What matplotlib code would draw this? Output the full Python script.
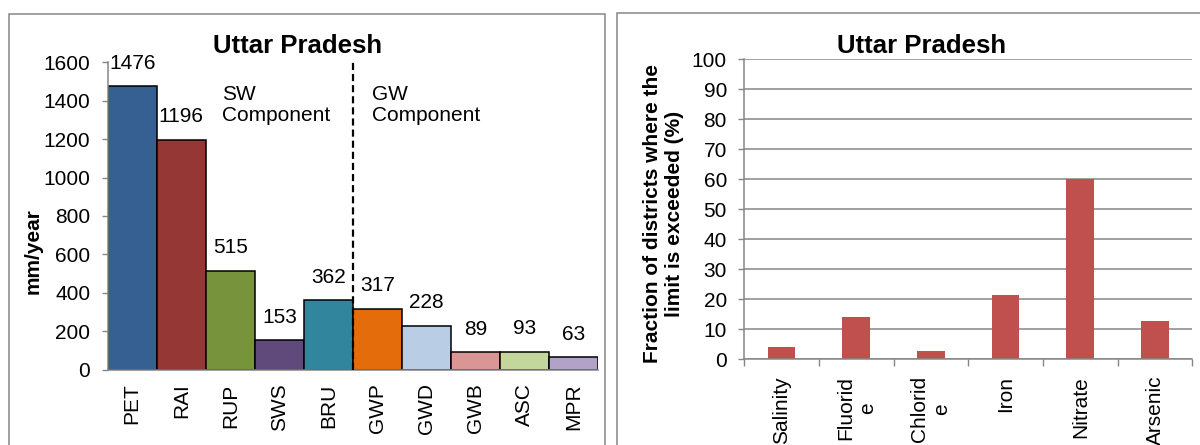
import matplotlib
matplotlib.use("Agg")
import matplotlib.pyplot as plt
from matplotlib.patches import Rectangle

plt.rcParams['font.family'] = ['Liberation Sans', 'DejaVu Sans']

# Water balance components (mm/year)
components = ["PET", "RAI", "RUP", "SWS", "BRU", "GWP", "GWD", "GWB", "ASC", "MPR"]
component_values = [1476, 1196, 515, 153, 362, 317, 228, 89, 93, 63]
component_colors = ["#376092", "#953735", "#77933C", "#604A7B", "#31859C",
                    "#E46C0A", "#B9CDE5", "#D99694", "#C3D69B", "#B3A2C7"]

# Water quality: share of districts exceeding the limit (%)
parameters = ["Salinity", "Fluorid\ne", "Chlorid\ne", "Iron", "Nitrate", "Arsenic"]
exceed_pct = [4.2, 14.1, 2.8, 21.3, 60.0, 12.8]

W, H = 1200, 445
fig = plt.figure(figsize=(W / 100, H / 100), dpi=100)
grey = "#868686"
FS = 15


def px_rect(x0, y0, x1, y1):
    """Convert pixel box (top-left origin) to figure fractions [l, b, w, h]."""
    return [x0 / W, 1 - y1 / H, (x1 - x0) / W, (y1 - y0) / H]


# Chart frames
for x0, y0, x1 in [(9, 14, 605), (617, 13.3, 1260)]:
    fig.patches.append(Rectangle((x0 / W, -0.2), (x1 - x0) / W, 1.2 - y0 / H,
                                 transform=fig.transFigure, fill=False,
                                 edgecolor=grey, lw=1.1, clip_on=False))

# ---------------- Left: water balance ----------------
ax1 = fig.add_axes(px_rect(107.7, 62.3, 598.3, 369.5))
xs = range(len(components))
ax1.bar(xs, component_values, width=1.0, color=component_colors,
        edgecolor="black", linewidth=1.1, zorder=2)
for x, v in zip(xs, component_values):
    ax1.annotate(f"{v}", (x, v), xytext=(0, 16.5), textcoords="offset points",
                 ha="center", va="center", fontsize=FS)
ax1.set_xlim(-0.5, len(components) - 0.5)
ax1.set_ylim(0, 1600)
ax1.set_yticks(range(0, 1601, 200))
ax1.set_xticks(list(xs))
ax1.set_xticklabels(components, rotation=90, fontsize=FS)
ax1.tick_params(axis="x", length=0, pad=10)
ax1.tick_params(axis="y", length=4.5, width=1, color=grey, pad=8, labelsize=FS)
for s in ["top", "right"]:
    ax1.spines[s].set_visible(False)
for s in ["left", "bottom"]:
    ax1.spines[s].set_color(grey)
    ax1.spines[s].set_linewidth(1.1)
ax1.axvline(4.5, ymin=0, ymax=1, color="black", lw=1.6, ls=(0, (3.2, 1.8)), zorder=3)
ax1.text(1.83, 1379, "SW\nComponent", ha="left", va="center", fontsize=FS,
         linespacing=1.12)
ax1.text(4.89, 1379, "GW\nComponent", ha="left", va="center", fontsize=FS,
         linespacing=1.12)
fig.text(33 / W, 1 - 251 / H, "mm/year", rotation=90, ha="center", va="center",
         fontsize=15, fontweight="bold")
fig.text(298 / W, 1 - 53 / H, "Uttar Pradesh", ha="center", va="baseline",
         fontsize=18.5, fontweight="bold")

# ---------------- Right: water quality ----------------
ax2 = fig.add_axes(px_rect(744.3, 59.3, 1192.3, 359.3))
xp = range(len(parameters))
ax2.bar(xp, exceed_pct, width=0.37, color="#C0504D", zorder=2)
ax2.set_xlim(-0.5, len(parameters) - 0.5)
ax2.set_ylim(0, 100)
ax2.set_yticks(range(0, 101, 10))
ax2.yaxis.grid(True, color=grey, lw=1.1, zorder=0)
ax2.set_axisbelow(True)
ax2.set_xticks([i - 0.5 for i in range(len(parameters) + 1)])
ax2.set_xticklabels([])
ax2.set_xticks(list(xp), minor=True)
ax2.set_xticklabels(parameters, minor=True, rotation=90, fontsize=FS,
                    multialignment="center")
ax2.tick_params(axis="x", which="major", length=5, width=1, color=grey)
ax2.tick_params(axis="x", which="minor", length=0, pad=12)
ax2.tick_params(axis="y", length=4.5, width=1, color=grey, pad=8, labelsize=FS)
for s in ["top", "right"]:
    ax2.spines[s].set_visible(False)
for s in ["left", "bottom"]:
    ax2.spines[s].set_color(grey)
    ax2.spines[s].set_linewidth(1.1)
fig.text(663 / W, 1 - 213.5 / H,
         "Fraction of districts where the\nlimit is exceeded (%)",
         rotation=90, ha="center", va="center", multialignment="center",
         fontsize=15, fontweight="bold", linespacing=1.2)
fig.text(922 / W, 1 - 53 / H, "Uttar Pradesh", ha="center", va="baseline",
         fontsize=18.5, fontweight="bold")

fig.savefig("out.png", dpi=100)
